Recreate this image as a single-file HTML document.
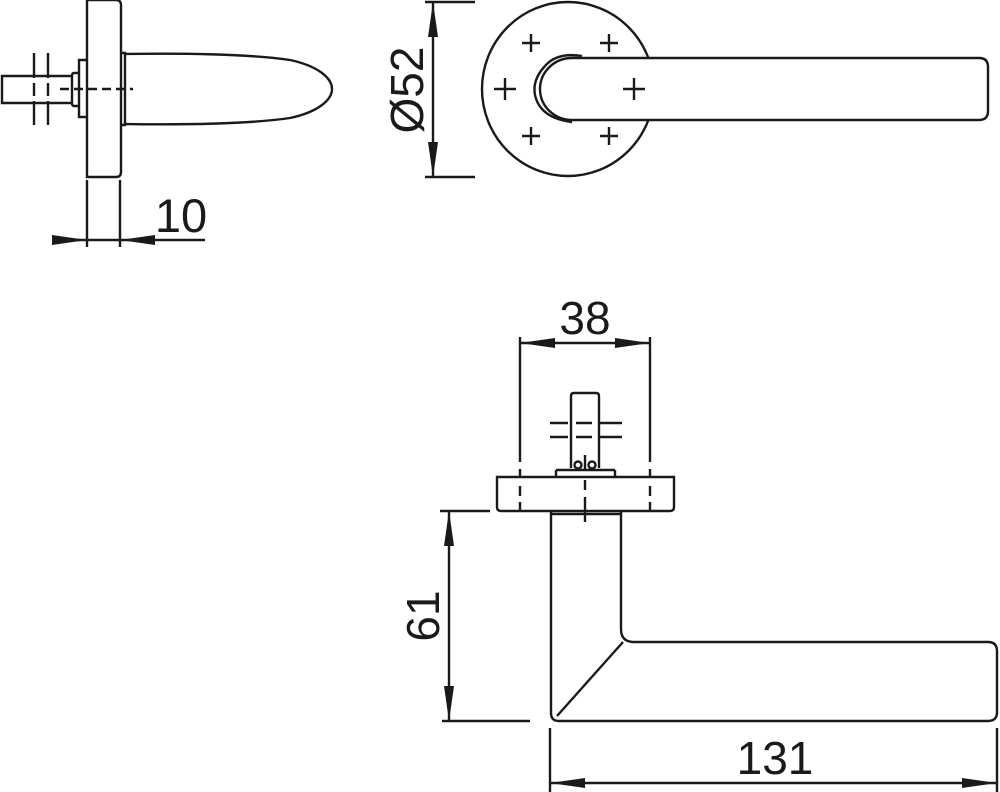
<!DOCTYPE html>
<html><head><meta charset="utf-8"><style>
html,body{margin:0;padding:0;background:#fff;}
svg{display:block;}
text{font-family:"Liberation Sans",sans-serif;fill:#1a1a1a;}
</style></head><body>
<svg width="1000" height="792" viewBox="0 0 1000 792" xmlns="http://www.w3.org/2000/svg">
<g fill="none" stroke="#1a1a1a" stroke-width="2.4" stroke-linecap="butt">
<!-- TOP LEFT side view -->
<path d="M87,0 V177 H116 Q121,177 121,172 V5 Q121,0 116,0 Z"/>
<path d="M122,53 H125 V125 H122"/>
<path d="M125,54 C180,53 250,54 290,60 C318,66 332,78 332,89 C332,100 318,112 290,118 C250,124 180,125 125,124"/>
<path d="M87,60 H79 V117 H87"/>
<path d="M79,73 H74 Q72,73 72,76 V103 Q72,106 74,106 H79"/>
<path d="M72,76 H2 V103 H72"/>
<path d="M34,53 V78 M34,83 V96 M34,101 V125 M48,53 V78 M48,83 V96 M48,101 V125"/>
<path d="M60,89 H133" stroke-dasharray="9,5"/>
<path d="M87,180 V247 M120,180 V247 M52,240 H205"/>
<!-- TOP RIGHT front view -->
<ellipse cx="568" cy="89" rx="86" ry="87"/>
<path d="M582,56 Q557,52 545,66 Q532,80 535,95 Q540,118 572,122" fill="#fff"/>
<path d="M572,58 H979 Q988,58 988,67 V111 Q988,120 979,120 H572 A32,31 0 0 1 572,58" fill="#fff"/>
<path d="M531,34 V52 M522,43 H540 M609,34 V52 M600,43 H618 M531,127 V145 M522,136 H540 M609,127 V145 M600,136 H618 M505,78 V100 M494,89 H516 M634,78 V100 M623,89 H645"/>
<path d="M425,2 H475 M425,177 H475 M433,2 V177"/>
<!-- BOTTOM view -->
<path d="M520,337 V462 M650,337 V462 M520,343 H650"/>
<path d="M520,469 V478 M520,486 V496 M520,502 V510 M650,469 V478 M650,486 V496 M650,502 V510" />
<path d="M571,468 V396 Q571,393 574,393 H596 Q599,393 599,396 V468"/>
<path d="M550,423 H568 M576,423 H592 M599,423 H622 M550,437 H568 M576,437 H592 M599,437 H622"/>
<path d="M556,470 V477 M615,470 V477 M556,470 H615"/>
<circle cx="578" cy="465" r="3.5"/><circle cx="592" cy="465" r="3.5"/>
<path d="M497,477 H674 V507 Q674,511 670,511 H501 Q497,511 497,507 Z"/>
<path d="M585,455 V470 M585,480 V490 M585,497 V522" />
<path d="M551,512 V713 Q551,721 559,721 H988 Q997,721 997,712 V651 Q997,642 988,642 H634 Q621,642 621,629 V512"/>
<path d="M551,514 H621"/>
<path d="M623,642 L557,716"/>
<path d="M440,511 H490 M442,721 H530 M449,511 V721"/>
<path d="M550,728 V792 M997,728 V792 M550,783 H997"/>
</g>
<g fill="#1a1a1a" stroke="none">
<polygon points="52,235 52,245 87,240"/>
<polygon points="155,235 155,245 120,240"/>
<polygon points="428,37 438,37 433,2"/>
<polygon points="428,142 438,142 433,177"/>
<polygon points="555,338 555,348 520,343"/>
<polygon points="615,338 615,348 650,343"/>
<polygon points="444,546 454,546 449,511"/>
<polygon points="444,686 454,686 449,721"/>
<polygon points="585,778 585,788 550,783"/>
<polygon points="962,778 962,788 997,783"/>
</g>
<text x="181" y="232" font-size="47" text-anchor="middle">10</text>
<text x="0" y="0" font-size="46" text-anchor="middle" transform="translate(423,90) rotate(-90)">Ø52</text>
<text x="585" y="334" font-size="46" text-anchor="middle">38</text>
<text x="0" y="0" font-size="46" text-anchor="middle" transform="translate(439,616) rotate(-90)">61</text>
<text x="775" y="774" font-size="46" text-anchor="middle">131</text>
</svg>
</body></html>
